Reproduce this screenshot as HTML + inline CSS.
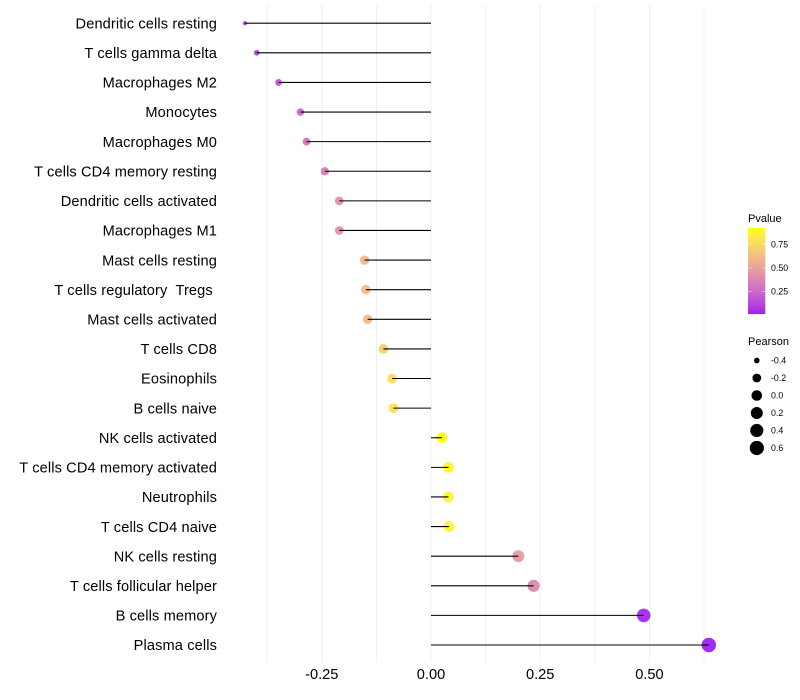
<!DOCTYPE html>
<html>
<head>
<meta charset="utf-8">
<style>
html,body{margin:0;padding:0;background:#fff;}
svg{display:block;font-family:"Liberation Sans",sans-serif;}
</style>
</head>
<body>
<svg id="chart" width="800" height="700" viewBox="0 0 800 700" xmlns="http://www.w3.org/2000/svg"></svg>
<script>
const categories = ["Dendritic cells resting","T cells gamma delta","Macrophages M2","Monocytes","Macrophages M0","T cells CD4 memory resting","Dendritic cells activated","Macrophages M1","Mast cells resting","T cells regulatory  Tregs ","Mast cells activated","T cells CD8","Eosinophils","B cells naive","NK cells activated","T cells CD4 memory activated","Neutrophils","T cells CD4 naive","NK cells resting","T cells follicular helper","B cells memory","Plasma cells"];
const pearson = [-0.426,-0.399,-0.349,-0.299,-0.285,-0.243,-0.210,-0.210,-0.152,-0.149,-0.145,-0.109,-0.089,-0.086,0.025,0.040,0.040,0.041,0.200,0.235,0.487,0.636];
const pvalue = [0.05,0.09,0.17,0.26,0.29,0.35,0.42,0.42,0.60,0.61,0.62,0.71,0.78,0.79,0.92,0.89,0.88,0.88,0.47,0.38,0.03,0.01];
const xMajorTicks = [-0.25,0,0.25,0.5];
const xMinorTicks = [-0.375,-0.125,0.125,0.375,0.625];
const colorTicks = [0.25,0.5,0.75];
const sizeLegend = [-0.4,-0.2,0,0.2,0.4,0.6];
const colorDomain = [0.01,0.925];

const NS = "http://www.w3.org/2000/svg";
const svg = document.getElementById("chart");
function mk(tag, attrs, text, parent){
  const el = document.createElementNS(NS, tag);
  for (const k in attrs) el.setAttribute(k, attrs[k]);
  if (text !== undefined) el.textContent = text;
  (parent || svg).appendChild(el);
  return el;
}
const xScale = v => 431 + v * 436.8;
const yScale = i => 23.2 + i * 29.61;
const pearsonMin = Math.min(...pearson), pearsonMax = Math.max(...pearson);
const sizeScale = v => (4 + 10.4 * Math.sqrt(Math.max(0, (v - pearsonMin) / (pearsonMax - pearsonMin)))) / 2;

function srgb2lab(c){
  const f = c.map(v => { v /= 255; return v > 0.04045 ? Math.pow((v + 0.055) / 1.055, 2.4) : v / 12.92; });
  const X = (0.4124 * f[0] + 0.3576 * f[1] + 0.1805 * f[2]) / 0.95047;
  const Y = 0.2126 * f[0] + 0.7152 * f[1] + 0.0722 * f[2];
  const Z = (0.0193 * f[0] + 0.1192 * f[1] + 0.9505 * f[2]) / 1.08883;
  const g = t => t > 0.008856 ? Math.cbrt(t) : 7.787 * t + 16 / 116;
  return [116 * g(Y) - 16, 500 * (g(X) - g(Y)), 200 * (g(Y) - g(Z))];
}
function lab2rgb(l){
  const fy = (l[0] + 16) / 116, fx = fy + l[1] / 500, fz = fy - l[2] / 200;
  const h = t => t * t * t > 0.008856 ? t * t * t : (t - 16 / 116) / 7.787;
  const X = h(fx) * 0.95047, Y = h(fy), Z = h(fz) * 1.08883;
  const r = [3.2406 * X - 1.5372 * Y - 0.4986 * Z, -0.9689 * X + 1.8758 * Y + 0.0415 * Z, 0.0557 * X - 0.204 * Y + 1.057 * Z];
  return r.map(v => {
    v = v > 0.0031308 ? 1.055 * Math.pow(v, 1 / 2.4) - 0.055 : 12.92 * v;
    return Math.round(Math.min(1, Math.max(0, v)) * 255);
  });
}
const labLow = srgb2lab([160,32,240]), labHigh = srgb2lab([255,255,0]);
function colorScale(p){
  const t = Math.min(1, Math.max(0, (p - colorDomain[0]) / (colorDomain[1] - colorDomain[0])));
  const c = lab2rgb(labLow.map((v, i) => v + (labHigh[i] - v) * t));
  return "rgb(" + c.join(",") + ")";
}

const panelTop = 5, panelBottom = 662;
xMinorTicks.concat(xMajorTicks).forEach(v => {
  const g = mk("line", {x1:xScale(v), x2:xScale(v), y1:panelTop, y2:panelBottom, stroke:"#efefef", "stroke-width":1});
  
  
});

categories.forEach((name, i) => {
  const y = yScale(i);
  const dot = mk("circle", {cx:xScale(pearson[i]), cy:y, r:sizeScale(pearson[i]), fill:colorScale(pvalue[i]), "fill-opacity":0.95});
  
  
  const line = mk("line", {x1:xScale(0), x2:xScale(pearson[i]), y1:y, y2:y, stroke:"#000", "stroke-width":1.07});
  
  
  const label = mk("text", {x:217, y:y + 5.2, "text-anchor":"end", "font-size":14.6, "letter-spacing":0.12, fill:"#000", style:"white-space:pre"}, name);
  
  
});

xMajorTicks.forEach(v => {
  const t = mk("text", {x:xScale(v), y:679, "text-anchor":"middle", "font-size":14.6, fill:"#000"}, v.toFixed(2));
  
  
});

/* colour legend */
const colorTitle = mk("text", {x:748, y:222, "font-size":11, fill:"#000"}, "Pvalue");


const legendY = p => 268 - (p - 0.5) * 94;
const barTop = legendY(colorDomain[1]), barBottom = legendY(colorDomain[0]);
const defs = mk("defs", {});
const grad = mk("linearGradient", {id:"pvalue-gradient", x1:0, x2:0, y1:0, y2:1}, undefined, defs);
const stopCount = 20;
for (let s = 0; s <= stopCount; s++){
  const p = colorDomain[1] - s / stopCount * (colorDomain[1] - colorDomain[0]);
  mk("stop", {offset:s / stopCount, "stop-color":colorScale(p)}, undefined, grad);
}
const bar = mk("rect", {x:748, y:barTop, width:17.3, height:barBottom - barTop, fill:"url(#pvalue-gradient)"});


colorTicks.forEach(p => {
  const y = legendY(p);
  [[748,751.5],[761.5,765.3]].forEach(seg => {
    const l = mk("line", {x1:seg[0], x2:seg[1], y1:y, y2:y, stroke:"#fff", "stroke-width":0.5});
    
    
  });
  const t = mk("text", {x:771, y:y + 3.2, "font-size":8.8, fill:"#000"}, p.toFixed(2));
  
  
});

/* size legend */
const sizeTitle = mk("text", {x:748, y:345, "font-size":11, fill:"#000"}, "Pearson");


sizeLegend.forEach((v, i) => {
  const y = 360.5 + i * 17.5;
  const c = mk("circle", {cx:756.8, cy:y, r:sizeScale(v), fill:"#000"});
  
  
  const t = mk("text", {x:771, y:y + 3.2, "font-size":8.8, fill:"#000"}, v.toFixed(1));
  
  
});
</script>
</body>
</html>
